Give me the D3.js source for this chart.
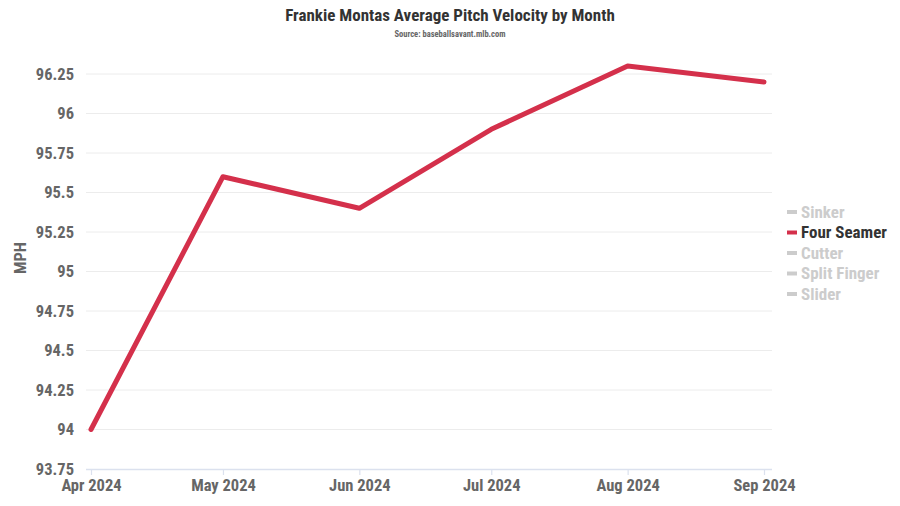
<!DOCTYPE html>
<html><head><meta charset="utf-8">
<script src="https://cdn.jsdelivr.net/npm/d3@7"></script>
<style>
body{margin:0;background:#fff;}
text{font-family:"Roboto Condensed",Roboto,sans-serif;font-weight:700;}
</style></head>
<body>
<svg id="chart" width="900" height="506"></svg>
<script>
const months = ["2024-04-01","2024-05-01","2024-06-01","2024-07-01","2024-08-01","2024-09-01"];
const fourSeamer = [94.0, 95.6, 95.4, 95.9, 96.3, 96.2];
const yTicks = [93.75, 94, 94.25, 94.5, 94.75, 95, 95.25, 95.5, 95.75, 96, 96.25];
const legendItems = ["Sinker", "Four Seamer", "Cutter", "Split Finger", "Slider"];
const activeSeries = "Four Seamer";

const svg = d3.select("#chart");
const parse = d3.utcParse("%Y-%m-%d");
const dates = months.map(parse);

const x = d3.scaleUtc().domain([dates[0], dates[dates.length-1]]).range([91, 764]);
const y = d3.scaleLinear().domain([93.75, 96.25]).range([469, 74]);
const plotLeft = 86, plotRight = 772;

// gridlines
svg.append("g").selectAll("line").data(yTicks.slice(1)).join("line")
  .attr("x1", plotLeft).attr("x2", plotRight)
  .attr("y1", d => y(d)).attr("y2", d => y(d))
  .attr("stroke", "#ececec").attr("stroke-width", 1);

// y labels
svg.append("g").selectAll("text").data(yTicks).join("text")
  .attr("x", 74).attr("y", d => y(d)).attr("dy", "0.35em")
  .attr("text-anchor", "end").attr("font-size", 16.5).attr("fill", "#666")
  .text(d => d3.format("")(d));

// x axis
const xAxis = svg.append("g").attr("transform", "translate(0,469)")
  .call(d3.axisBottom(x).tickValues(dates).tickFormat(d3.utcFormat("%b %Y")).tickSize(6).tickSizeOuter(0).tickPadding(4));
xAxis.select(".domain").attr("d", `M${plotLeft},0.5H${plotRight}`).attr("stroke", "#dbe1ee").attr("stroke-width", 1.5);
xAxis.selectAll(".tick line").attr("stroke", "#dbe1ee").attr("stroke-width", 1.2);
xAxis.selectAll(".tick text").attr("font-size", 16.5).attr("fill", "#666")
  .attr("font-family", '"Roboto Condensed",Roboto,sans-serif').attr("font-weight", 700);

// line
const line = d3.line().x((d, i) => x(dates[i])).y(d => y(d));
svg.append("path").datum(fourSeamer)
  .attr("d", line).attr("fill", "none").attr("stroke", "#d4304b")
  .attr("stroke-width", 5).attr("stroke-linejoin", "round").attr("stroke-linecap", "round");

// y title
svg.append("text").attr("transform", "translate(26,258) rotate(-90)")
  .attr("text-anchor", "middle").attr("font-size", 16.5).attr("fill", "#666").text("MPH");

// title
svg.append("text").attr("x", 450).attr("y", 21).attr("text-anchor", "middle")
  .attr("font-size", 17).attr("fill", "#333").text("Frankie Montas Average Pitch Velocity by Month");
svg.append("text").attr("x", 450).attr("y", 37).attr("text-anchor", "middle")
  .attr("font-size", 8.5).attr("fill", "#666").text("Source: baseballsavant.mlb.com");

// legend
const lg = svg.append("g").selectAll("g").data(legendItems).join("g")
  .attr("transform", (d, i) => `translate(787,${212 + i * 20.5})`);
lg.append("line").attr("x1", 0).attr("x2", 10).attr("y1", 0).attr("y2", 0)
  .attr("stroke", d => d === activeSeries ? "#d4304b" : "#cccccc").attr("stroke-width", 4);
lg.append("text").attr("x", 14).attr("dy", "0.35em").attr("font-size", 17)
  .attr("fill", d => d === activeSeries ? "#333" : "#cccccc").text(d => d);
</script>
</body></html>
